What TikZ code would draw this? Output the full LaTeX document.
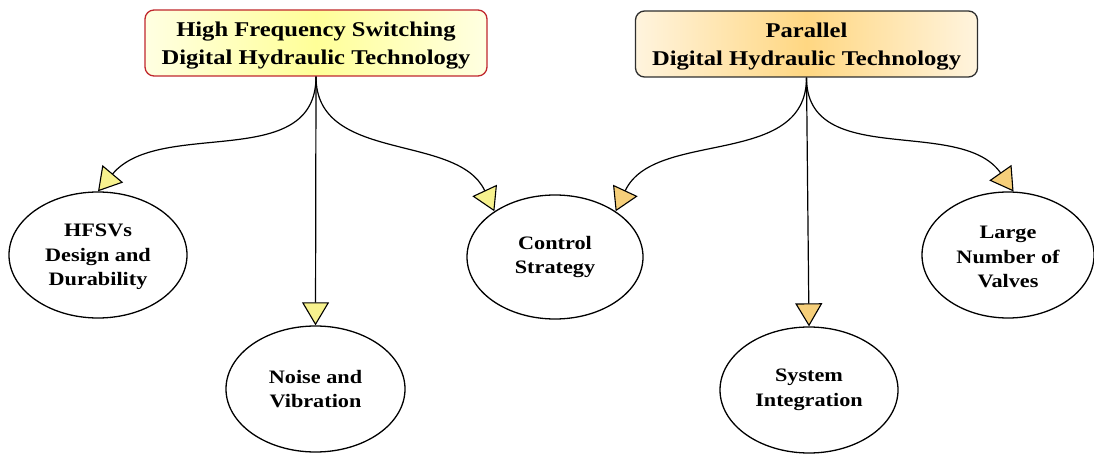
\documentclass[tikz,border=0pt]{standalone}
\usepackage{fontspec}
\setmainfont{Liberation Serif}[FakeStretch=1.17]
\usetikzlibrary{arrows.meta,shapes.geometric}
\definecolor{hdroneborder}{HTML}{C0272D}
\definecolor{hdronelight}{HTML}{FFFFE2}
\definecolor{hdronemid}{HTML}{FFFF98}
\definecolor{hdrtwoborder}{HTML}{2E2E2E}
\definecolor{hdrtwolight}{HTML}{FFF4DE}
\definecolor{hdrtwomid}{HTML}{FFD782}
\definecolor{tipone}{HTML}{F7F28E}
\definecolor{tiptwo}{HTML}{F6CF7A}
\tikzset{
  hdrbox/.style={rectangle, rounded corners=9pt, line width=1.3pt, align=center,
    minimum width=342pt, minimum height=66pt, inner sep=0pt,
    font=\fontsize{21}{28.5}\selectfont\bfseries},
  hdrone/.style={hdrbox, draw=hdroneborder, left color=hdronelight, right color=hdronelight, middle color=hdronemid},
  hdrtwo/.style={hdrbox, draw=hdrtwoborder, left color=hdrtwolight, right color=hdrtwolight, middle color=hdrtwomid},
  topic/.style={ellipse, draw=black, line width=1.3pt, fill=white, align=center, inner sep=0pt,
    minimum width=178pt, minimum height=126pt, font=\fontsize{19}{24.5}\selectfont\bfseries},
  linkone/.style={draw=black, line width=1.2pt, -{Triangle[length=23pt, width=27pt, fill=tipone, line width=1.1pt]}},
  linktwo/.style={draw=black, line width=1.2pt, -{Triangle[length=23pt, width=27pt, fill=tiptwo, line width=1.1pt]}},
}
\begin{document}
\begin{tikzpicture}[x=1pt, y=-1pt]
\useasboundingbox (0,0) rectangle (1094,454);
\node[hdrone] (H1) at (316,43) {\rule{0pt}{20pt}High Frequency Switching\\Digital Hydraulic Technology};
\node[hdrtwo] (H2) at (806.5,44) {\rule{0pt}{20pt}Parallel\\Digital Hydraulic Technology};
\node[topic] (HF) at (98,255) {\rule{0pt}{17pt}HFSVs\\Design and\\Durability};
\node[topic, minimum width=179pt] (NV) at (315.5,389) {Noise and\\Vibration};
\node[topic, minimum width=176pt, minimum height=124pt] (CS) at (555,257) {Control\\Strategy};
\node[topic] (SI) at (809,390) {System\\Integration};
\node[topic, minimum width=172pt] (LN) at (1008,255) {\rule{0pt}{17pt}Large\\Number of\\Valves};
\draw[linkone] (H1.south) to[out=-90, in=50] (HF.north);
\draw[linkone] (H1.south) -- (NV.north);
\draw[linkone] (H1.south) to[out=-90, in=115] (CS.143);
\draw[linktwo] (H2.south) to[out=-90, in=65] (CS.37);
\draw[linktwo] (H2.south) -- (SI.north);
\draw[linktwo] (H2.south) to[out=-90, in=125] (LN.85);
\end{tikzpicture}
\end{document}
